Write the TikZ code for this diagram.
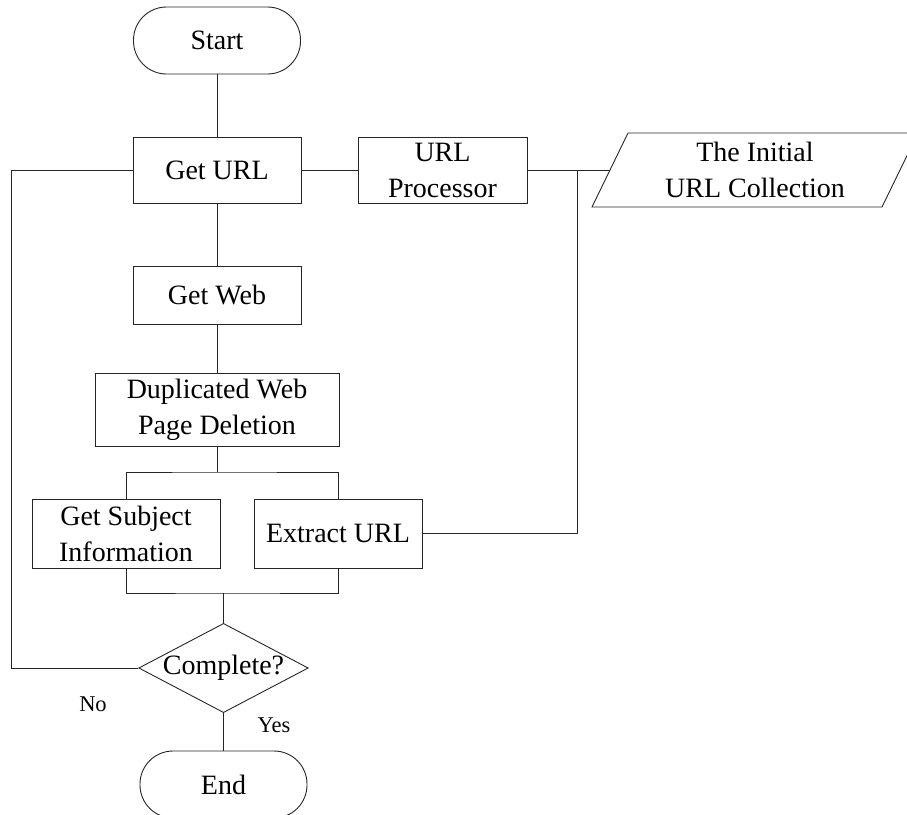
\documentclass[tikz,border=0pt]{standalone}
\usepackage{fontspec}
\setmainfont{Liberation Serif}
\usetikzlibrary{shapes.geometric}
\begin{document}
\begin{tikzpicture}[x=1pt,y=-1pt,
  line width=0.9pt,
  link/.style={draw=black!85},
  base/.style={draw=black!85, inner sep=0pt, align=center,
    font=\fontsize{28}{36}\selectfont},
  procbox/.style={base, rectangle, minimum width=#1},
  terminal/.style={base, rectangle, rounded corners=33pt,
    minimum width=167pt, minimum height=67pt},
  decision/.style={base, diamond, aspect=1.9, minimum width=167pt, minimum height=88pt},
  tag/.style={font=\fontsize{22.5}{26}\selectfont, inner sep=0pt}]
\useasboundingbox (0,0) rectangle (907,814);

% main column
\node[terminal] (start) at (217,40.5) {Start};
\node[procbox=168pt, minimum height=66pt] (geturl) at (217,170) {Get URL};
\node[procbox=169pt, minimum height=66pt] (proc) at (442.5,170) {URL\\Processor};
\node[procbox=168pt, minimum height=58pt] (getweb) at (217,295) {Get Web};
\node[procbox=244pt, minimum height=73pt] (dup) at (217,409.5) {Duplicated Web\\Page Deletion};
\node[procbox=188pt, minimum height=69pt] (subj) at (126,533.5) {Get Subject\\Information};
\node[procbox=168pt, minimum height=69pt] (extract) at (338,533.5) {Extract URL};
\node[decision] (cmp) at (223.5,668) {Complete?};
\node[terminal] (end) at (223.5,784.5) {End};

% data input: initial URL collection
\draw[link] (592,207) -- (628,133) -- (918,133) -- (882,207) -- cycle;
\node[base, draw=none] (coll) at (755,170) {The Initial\\URL Collection};
\coordinate (collin) at (610,170);
\coordinate (jn) at (577,170);

% junction points
\coordinate (split) at (217,472);
\coordinate (merge) at (223.5,593);
\coordinate (loop) at (11,668);

% connectors
\draw[link] (start.south) -- (geturl.north);
\draw[link] (geturl.east) -- (proc.west);
\draw[link] (proc.east) -- (collin);
\draw[link] (extract.east) -| (jn);
\draw[link] (geturl.south) -- (getweb.north);
\draw[link] (getweb.south) -- (dup.north);
\draw[link] (dup.south) -- (split);
\draw[link] (subj.north) |- (split) -| (extract.north);
\draw[link] (subj.south) |- (merge) -| (extract.south);
\draw[link] (merge) -- (cmp.north);
\draw[link] (cmp.south) -- (end.north);
\draw[link] (cmp.west) -- (loop) |- (geturl.west);

% branch labels
\node[tag] (no) at (93,704) {No};
\node[tag] (yes) at (274,725) {Yes};
\end{tikzpicture}
\end{document}
